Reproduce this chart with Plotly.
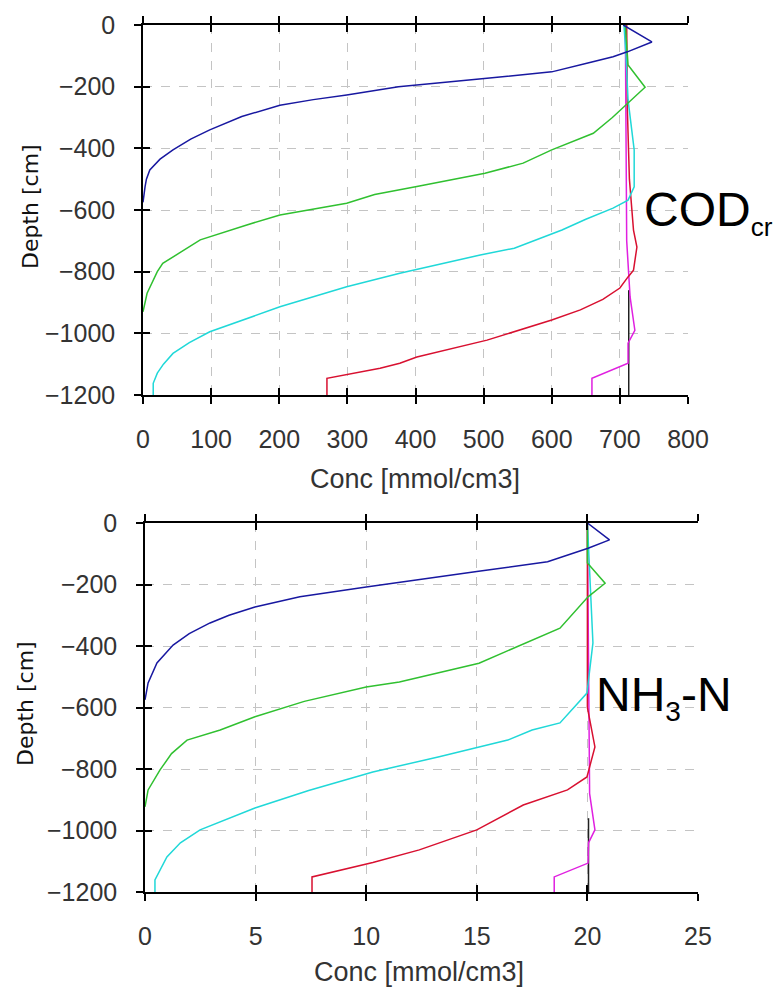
import plotly.graph_objects as go

# ---------------- COD_cr panel (top) ----------------
cod_blue_depth = [0, -55, -87, -103, -125, -152, -173, -200, -227, -242, -260, -297, -340, -370, -405, -435, -470, -500, -525, -575]
cod_blue_conc = [705, 747, 711, 690, 650, 600, 505, 375, 299, 250, 201, 145, 98, 70, 44, 25, 10, 5, 3, 0]

cod_green_depth = [0, -130, -202, -254, -300, -351, -405, -448, -481, -524, -550, -578, -616, -650, -687, -697, -740, -773, -800, -870, -930]
cod_green_conc = [708, 712, 737, 712, 689, 661, 600, 558, 502, 402, 340, 299, 201, 150, 98, 84, 53, 29, 21, 6, 0]

cod_cyan_depth = [0, -100, -243, -405, -525, -568, -594, -630, -665, -724, -746, -805, -849, -914, -995, -1030, -1065, -1100, -1129, -1162, -1200]
cod_cyan_conc = [706, 709, 712, 721, 721, 712, 690, 650, 615, 545, 495, 377, 299, 201, 98, 68, 44, 30, 21, 15, 15]

cod_red_depth = [0, -276, -500, -665, -720, -795, -817, -853, -890, -924, -957, -1022, -1077, -1097, -1113, -1146, -1200]
cod_red_conc = [710, 711, 714, 720, 725, 720, 712, 700, 675, 642, 600, 505, 402, 377, 348, 270, 270]

cod_magenta_depth = [0, -580, -700, -882, -990, -1032, -1097, -1146, -1200]
cod_magenta_conc = [708, 709, 710, 715, 722, 712, 712, 659, 659]

cod_black_depth = [-860, -1200]
cod_black_conc = [713, 713]

# ---------------- NH3-N panel (bottom) ----------------
nh_blue_depth = [0, -55, -82, -126, -158, -192, -208, -240, -273, -300, -325, -360, -397, -455, -520, -575]
nh_blue_conc = [20.0, 21.0, 20.03, 18.2, 15.0, 11.5, 10.0, 7.0, 4.97, 3.8, 2.94, 2.0, 1.27, 0.54, 0.14, 0]

nh_green_depth = [0, -130, -196, -240, -342, -456, -517, -533, -580, -630, -673, -706, -750, -803, -868, -923]
nh_green_conc = [20.0, 20.0, 20.8, 20.03, 18.76, 15.1, 11.5, 10.0, 7.2, 4.97, 3.4, 1.9, 1.2, 0.68, 0.14, 0]

nh_cyan_depth = [0, -390, -553, -650, -673, -706, -760, -810, -870, -927, -998, -1040, -1086, -1161, -1200]
nh_cyan_conc = [20.0, 20.25, 19.98, 18.76, 17.5, 16.4, 13.3, 10.3, 7.4, 4.97, 2.49, 1.6, 0.99, 0.45, 0.45]

nh_red_depth = [0, -600, -728, -826, -868, -917, -998, -1063, -1104, -1151, -1200]
nh_red_conc = [20.0, 20.0, 20.34, 19.98, 19.1, 17.1, 15.0, 12.4, 10.3, 7.55, 7.55]

nh_magenta_depth = [0, -880, -998, -1040, -1106, -1151, -1200]
nh_magenta_conc = [20.0, 20.1, 20.34, 20.05, 20.03, 18.5, 18.5]

nh_black_depth = [-960, -1200]
nh_black_conc = [20.05, 20.05]

x_ticks_top = [0, 100, 200, 300, 400, 500, 600, 700, 800]
x_ticks_bot = [0, 5, 10, 15, 20, 25]
y_ticks = [0, -200, -400, -600, -800, -1000, -1200]

colors = {
    "black": "#202020",
    "magenta": "#e020e0",
    "red": "#d81030",
    "cyan": "#20d8d8",
    "green": "#30c030",
    "blue": "#1818a0",
}

fig = go.Figure()

top_series = [
    ("black", cod_black_conc, cod_black_depth),
    ("magenta", cod_magenta_conc, cod_magenta_depth),
    ("red", cod_red_conc, cod_red_depth),
    ("cyan", cod_cyan_conc, cod_cyan_depth),
    ("green", cod_green_conc, cod_green_depth),
    ("blue", cod_blue_conc, cod_blue_depth),
]
bot_series = [
    ("black", nh_black_conc, nh_black_depth),
    ("magenta", nh_magenta_conc, nh_magenta_depth),
    ("red", nh_red_conc, nh_red_depth),
    ("cyan", nh_cyan_conc, nh_cyan_depth),
    ("green", nh_green_conc, nh_green_depth),
    ("blue", nh_blue_conc, nh_blue_depth),
]

for name, xs, ys in top_series:
    fig.add_trace(go.Scatter(x=xs, y=ys, mode="lines", line=dict(color=colors[name], width=1.5),
                             xaxis="x", yaxis="y", showlegend=False, hoverinfo="skip"))
for name, xs, ys in bot_series:
    fig.add_trace(go.Scatter(x=xs, y=ys, mode="lines", line=dict(color=colors[name], width=1.5),
                             xaxis="x2", yaxis="y2", showlegend=False, hoverinfo="skip"))

# invisible copies so the overlay (inner tick) axes get drawn
fig.add_trace(go.Scatter(x=cod_black_conc, y=cod_black_depth, mode="lines", opacity=0,
                         line=dict(width=0), xaxis="x3", yaxis="y3", showlegend=False, hoverinfo="skip"))
fig.add_trace(go.Scatter(x=nh_black_conc, y=nh_black_depth, mode="lines", opacity=0,
                         line=dict(width=0), xaxis="x4", yaxis="y4", showlegend=False, hoverinfo="skip"))

# the page body has an 8px default margin: lay out in page pixels, shifted by it
OFF = 8
W, H = 781 - OFF, 988 - OFF


def px(v):
    return (v - OFF) / W


def py(v):
    return 1 - (v - OFF) / H


top_dx = [px(143), px(688)]
top_dy = [py(395), py(25)]
bot_dx = [px(145), px(698)]
bot_dy = [py(892), py(523)]

tickfont = dict(family="Liberation Sans, Arial, sans-serif", size=25, color="#333333")
grid = dict(showgrid=True, gridcolor="#c4c4c4", gridwidth=1, griddash="dash", zeroline=False)
base = dict(showline=True, linecolor="black", linewidth=1.6, ticks="outside", ticklen=7,
            tickwidth=1.6, tickcolor="black", tickfont=tickfont, ticklabelstandoff=14,
            automargin=False)
inner = dict(showline=False, ticks="inside", ticklen=7, tickwidth=1.6, tickcolor="black",
             showticklabels=False, showgrid=False, zeroline=False, automargin=False)

fig.update_layout(
    width=W, height=H,
    margin=dict(l=0, r=0, t=0, b=0),
    paper_bgcolor="white", plot_bgcolor="white",
    xaxis=dict(domain=top_dx, range=[0, 800], tickvals=x_ticks_top, anchor="y", mirror="ticks", **grid, **base),
    yaxis=dict(domain=top_dy, range=[-1200, 0], tickvals=y_ticks, anchor="x", **grid, **base),
    xaxis3=dict(overlaying="x", range=[0, 800], tickvals=x_ticks_top, anchor="y3", mirror="ticks", **inner),
    yaxis3=dict(overlaying="y", range=[-1200, 0], tickvals=y_ticks, anchor="x3", **inner),
    xaxis2=dict(domain=bot_dx, range=[0, 25], tickvals=x_ticks_bot, anchor="y2", mirror="ticks", **grid, **base),
    yaxis2=dict(domain=bot_dy, range=[-1200, 0], tickvals=y_ticks, anchor="x2", **grid, **base),
    xaxis4=dict(overlaying="x2", range=[0, 25], tickvals=x_ticks_bot, anchor="y4", mirror="ticks", **inner),
    yaxis4=dict(overlaying="y2", range=[-1200, 0], tickvals=y_ticks, anchor="x4", **inner),
)

label_font = dict(family="Liberation Sans, Arial, sans-serif", size=27, color="#333333")
depth_font = dict(family="DejaVu Sans, sans-serif", size=22, color="#111111")
big_font = dict(family="Liberation Sans, Arial, sans-serif", size=48, color="black")

annotations = [
    dict(text="Depth [cm]", x=px(30), y=py(207), textangle=-90, font=depth_font),
    dict(text="Depth [cm]", x=px(25), y=py(704), textangle=-90, font=depth_font),
    dict(text="Conc [mmol/cm3]", x=px(415), y=py(479), font=label_font),
    dict(text="Conc [mmol/cm3]", x=px(419), y=py(972), font=label_font),
    dict(text='COD<sub><span style="font-size:26px">cr</span></sub>', x=px(642), y=py(212),
         xanchor="left", font=big_font),
    dict(text='NH<sub><span style="font-size:28px">3</span></sub>-N', x=px(594), y=py(697),
         xanchor="left", font=big_font),
]
for a in annotations:
    a.setdefault("xanchor", "center")
    a.update(xref="paper", yref="paper", showarrow=False, yanchor="middle")
    fig.add_annotation(**a)

fig.write_html("out.html")
